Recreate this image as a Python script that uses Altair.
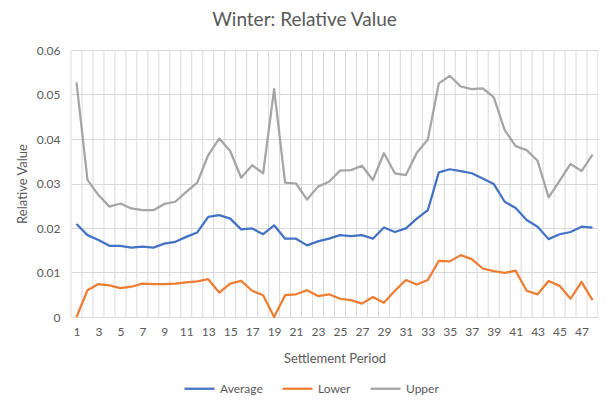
import altair as alt
import pandas as pd

periods = list(range(1, 49))
average = [0.0209, 0.0184, 0.0173, 0.0160, 0.0160, 0.0156, 0.0158, 0.0156, 0.0165, 0.0169,
           0.0180, 0.0190, 0.0225, 0.0229, 0.0221, 0.0197, 0.0199, 0.0186, 0.0206, 0.0176,
           0.0176, 0.0161, 0.0170, 0.0176, 0.0184, 0.0182, 0.0184, 0.0176, 0.0201, 0.0191,
           0.0199, 0.0221, 0.0240, 0.0325, 0.0332, 0.0328, 0.0323, 0.0311, 0.0299, 0.0259,
           0.0245, 0.0218, 0.0203, 0.0175, 0.0186, 0.0191, 0.0203, 0.0201]
lower = [0.0000, 0.0060, 0.0074, 0.0071, 0.0065, 0.0068, 0.0075, 0.0074, 0.0074, 0.0075,
         0.0078, 0.0080, 0.0085, 0.0055, 0.0075, 0.0081, 0.0059, 0.0049, 0.0000, 0.0049,
         0.0051, 0.0060, 0.0047, 0.0051, 0.0041, 0.0038, 0.0030, 0.0045, 0.0032, 0.0059,
         0.0083, 0.0073, 0.0083, 0.0126, 0.0125, 0.0139, 0.0130, 0.0109, 0.0103, 0.0099,
         0.0104, 0.0059, 0.0051, 0.0081, 0.0070, 0.0041, 0.0079, 0.0038]
upper = [0.0527, 0.0308, 0.0274, 0.0248, 0.0255, 0.0244, 0.0240, 0.0240, 0.0254, 0.0259,
         0.0281, 0.0302, 0.0364, 0.0401, 0.0373, 0.0313, 0.0341, 0.0323, 0.0512, 0.0302,
         0.0300, 0.0264, 0.0293, 0.0304, 0.0329, 0.0330, 0.0340, 0.0308, 0.0368, 0.0323,
         0.0319, 0.0369, 0.0399, 0.0525, 0.0542, 0.0518, 0.0512, 0.0514, 0.0494, 0.0420,
         0.0384, 0.0375, 0.0351, 0.0269, 0.0306, 0.0344, 0.0328, 0.0365]

series_names = ["Average", "Lower", "Upper"]
series_colors = ["#4472C4", "#ED7D31", "#A5A5A5"]
y_ticks = [0, 0.01, 0.02, 0.03, 0.04, 0.05, 0.06]
x_labels = [p for p in periods if p % 2 == 1]

rows = []
for name, vals in zip(series_names, [average, lower, upper]):
    for p, v in zip(periods, vals):
        rows.append({"Period": p, "Value": v, "Series": name})
df = pd.DataFrame(rows)

# category boundaries (Excel draws vertical gridlines between categories)
bounds = pd.DataFrame({"b": [p - 0.5 for p in periods] + [periods[-1] + 0.5]})

FONT = "Lato"
TXT = "#595959"
GRID = "#D9D9D9"

xscale = alt.Scale(domain=[0.5, 48.5], nice=False, zero=False)
xaxis = alt.Axis(title="Settlement Period", values=x_labels, grid=False, ticks=False,
                 domainColor=GRID, labelPadding=9, labelFontSize=12, labelColor=TXT,
                 labelFont=FONT, labelFlush=False,
                 titleFontSize=13, titleColor=TXT, titleFont=FONT,
                 titleFontWeight="normal", titleY=41, titleBaseline="middle")

vgrid = alt.Chart(bounds).mark_rule(color=GRID, strokeWidth=1).encode(
    x=alt.X("b:Q", scale=xscale, axis=xaxis)
)

lines = alt.Chart(df).mark_line(strokeWidth=2.25, strokeJoin="round").encode(
    x=alt.X("Period:Q", scale=xscale, axis=xaxis),
    y=alt.Y("Value:Q",
            scale=alt.Scale(domain=[0, 0.06], nice=False),
            axis=alt.Axis(title="Relative Value", values=y_ticks, format=".2~f", grid=True,
                          gridColor=GRID, domain=False, ticks=False, labelPadding=11,
                          labelFontSize=12, labelColor=TXT, labelFont=FONT,
                          titleFontSize=13, titleColor=TXT, titleFont=FONT,
                          titleFontWeight="normal", titleX=-49, titleBaseline="middle")),
    color=alt.Color("Series:N",
                    scale=alt.Scale(domain=series_names, range=series_colors),
                    legend=alt.Legend(title=None, orient="none", direction="horizontal",
                                      legendX=112, legendY=322, symbolType="stroke",
                                      symbolSize=900, symbolStrokeWidth=2.25,
                                      labelFontSize=12, labelColor=TXT, labelFont=FONT,
                                      labelOffset=4, columnPadding=15, padding=0)),
)

chart = alt.layer(vgrid, lines).properties(
    width=527, height=267,
    title=alt.TitleParams("Winter: Relative Value", fontSize=19, font=FONT, color=TXT,
                          fontWeight="normal", anchor="middle", dx=-30, offset=14),
    padding={"left": 63, "top": 42, "right": 0, "bottom": 83},
    autosize=alt.AutoSizeParams(type="none"),
).configure_view(stroke=None)

chart.save("out.html", embed_options={"renderer": "svg", "actions": False})
